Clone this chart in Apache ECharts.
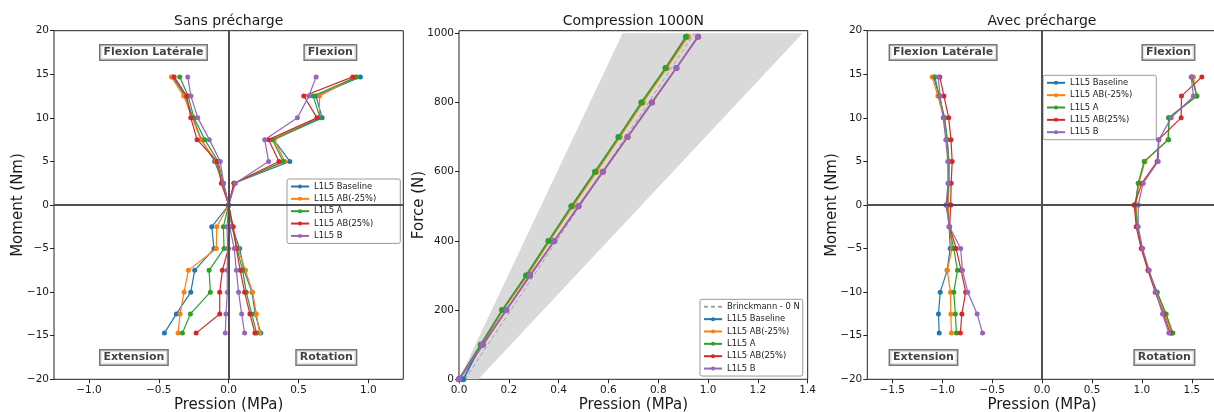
<!DOCTYPE html>
<html><head><meta charset="utf-8">
<script src="https://cdn.jsdelivr.net/npm/echarts@6/dist/echarts.min.js"></script>
<style>html,body{margin:0;padding:0;background:#fff}#c{width:1214px;height:412px}</style>
</head><body><div id="c"></div>
<script>
// ---------- DATA ----------
const seriesNames = ['L1L5 Baseline', 'L1L5 AB(-25%)', 'L1L5 A', 'L1L5 AB(25%)', 'L1L5 B'];
const brinckName = 'Brinckmann - 0 N';
const momentsUp = [0, 2.5, 5, 7.5, 10, 12.5, 14.7];
const momentsDown = [0, -2.5, -5, -7.5, -10, -12.5, -14.7];

// Sans précharge (pression MPa), order: Baseline, AB(-25%), A, AB(25%), B
const sansFlexionLaterale = [
  [0, -0.040, -0.100, -0.195, -0.255, -0.310, -0.400],
  [0, -0.045, -0.090, -0.200, -0.260, -0.322, -0.410],
  [0, -0.037, -0.076, -0.171, -0.248, -0.290, -0.350],
  [0, -0.052, -0.083, -0.226, -0.271, -0.300, -0.390],
  [0, -0.036, -0.060, -0.138, -0.221, -0.270, -0.293]
];
const sansFlexion = [
  [0, 0.040, 0.438, 0.322, 0.669, 0.625, 0.943],
  [0, 0.040, 0.402, 0.326, 0.650, 0.650, 0.910],
  [0, 0.040, 0.390, 0.314, 0.655, 0.605, 0.917],
  [0, 0.038, 0.360, 0.286, 0.632, 0.538, 0.888],
  [0, 0.048, 0.286, 0.258, 0.492, 0.574, 0.626]
];
const sansExtension = [
  [0, -0.121, -0.105, -0.243, -0.271, -0.374, -0.460],
  [0, -0.085, -0.088, -0.288, -0.319, -0.348, -0.362],
  [0, -0.038, -0.033, -0.140, -0.131, -0.274, -0.331],
  [0, 0.000, -0.002, -0.045, -0.064, -0.064, -0.233],
  [0, -0.012, -0.007, -0.010, -0.010, -0.019, -0.024]
];
const sansRotation = [
  [0, 0.025, 0.079, 0.110, 0.167, 0.190, 0.230],
  [0, 0.025, 0.067, 0.120, 0.171, 0.198, 0.221],
  [0, 0.025, 0.060, 0.100, 0.126, 0.165, 0.200],
  [0, 0.033, 0.055, 0.083, 0.114, 0.152, 0.188],
  [0, 0.007, 0.040, 0.055, 0.071, 0.093, 0.114]
];

// Avec précharge
const avecFlexionLaterale = [
  [-0.955, -0.935, -0.935, -0.950, -0.980, -1.030, -1.085],
  [-0.940, -0.930, -0.930, -0.955, -0.985, -1.043, -1.100],
  [-0.950, -0.935, -0.935, -0.950, -0.975, -1.030, -1.073],
  [-0.915, -0.910, -0.900, -0.912, -0.935, -0.982, -1.024],
  [-0.962, -0.942, -0.944, -0.964, -0.990, -1.020, -1.040]
];
const avecExtension = [
  [-0.955, -0.930, -0.920, -0.950, -1.020, -1.037, -1.030],
  [-0.940, -0.930, -0.900, -0.950, -0.917, -0.913, -0.908],
  [-0.950, -0.930, -0.884, -0.847, -0.884, -0.868, -0.857],
  [-0.915, -0.925, -0.860, -0.810, -0.765, -0.803, -0.818],
  [-0.962, -0.927, -0.815, -0.797, -0.744, -0.650, -0.596]
];
const avecFlexion = [
  [0.935, 0.965, 1.025, 1.265, 1.270, 1.550, 1.500],
  [0.940, 0.970, 1.030, 1.260, 1.278, 1.545, 1.516],
  [0.933, 0.963, 1.023, 1.266, 1.266, 1.550, 1.500],
  [0.923, 1.000, 1.153, 1.167, 1.393, 1.396, 1.600],
  [0.963, 1.013, 1.163, 1.170, 1.293, 1.516, 1.493]
];
const avecRotation = [
  [0.935, 0.955, 1.000, 1.066, 1.150, 1.235, 1.300],
  [0.940, 0.955, 1.000, 1.065, 1.148, 1.230, 1.300],
  [0.933, 0.955, 1.000, 1.066, 1.153, 1.243, 1.310],
  [0.923, 0.943, 0.993, 1.060, 1.133, 1.217, 1.283],
  [0.963, 0.963, 1.007, 1.073, 1.140, 1.206, 1.270]
];

// Compression 1000N: force (N) vs pression (MPa)
const forces = [0, 100, 200, 300, 400, 500, 600, 700, 800, 900, 990];
const compPression = [
  [0.017, 0.089, 0.175, 0.272, 0.362, 0.455, 0.550, 0.644, 0.736, 0.833, 0.916],
  [0.000, 0.090, 0.176, 0.273, 0.363, 0.456, 0.551, 0.645, 0.737, 0.834, 0.918],
  [0.000, 0.087, 0.173, 0.269, 0.359, 0.451, 0.546, 0.640, 0.732, 0.829, 0.911],
  [0.000, 0.096, 0.190, 0.285, 0.383, 0.480, 0.578, 0.677, 0.775, 0.873, 0.960],
  [0.000, 0.094, 0.190, 0.285, 0.383, 0.479, 0.577, 0.676, 0.774, 0.873, 0.959]
];
const brinckPression = [0.024, 0.945];
const brinckForce = [0, 1000];
const bandForce = [0, 1000];
const bandLow = [0.0, 0.657];
const bandHigh = [0.078, 1.38];

// Tick values
const sansXTicks = [-1.0, -0.5, 0.0, 0.5, 1.0];
const compXTicks = [0, 0.2, 0.4, 0.6, 0.8, 1.0, 1.2, 1.4];
const compYTicks = [0, 200, 400, 600, 800, 1000];
const avecXTicks = [-1.5, -1.0, -0.5, 0.0, 0.5, 1.0, 1.5];
const momentTicks = [-20, -15, -10, -5, 0, 5, 10, 15, 20];

const quadrantLabels = ['Flexion Latérale', 'Flexion', 'Extension', 'Rotation'];

// ---------- STYLE ----------
const colors = ['#1f77b4', '#ff7f0e', '#2ca02c', '#d62728', '#9467bd'];
const FONT = 'DejaVu Sans';
const TXT = '#1a1a1a';

const fmtNum = (d) => (v) => (d === null ? String(v) : Number(v).toFixed(d)).replace('-', '\u2212');

function xAxisCfg(gi, min, max, ticks, dec) {
  return {
    type: 'value', gridIndex: gi, min, max,
    name: 'Pression (MPa)', nameLocation: 'middle', nameGap: 18.5, nameMoveOverlap: false,
    nameTextStyle: { fontSize: 15, color: TXT, fontFamily: FONT, verticalAlign: 'top' },
    axisLine: { show: false, onZero: false },
    splitLine: { show: false },
    axisTick: { show: true, length: 4, customValues: ticks, lineStyle: { color: '#222', width: 1 } },
    axisLabel: { customValues: ticks, formatter: fmtNum(dec), fontSize: 10.5, color: TXT, fontFamily: FONT, margin: 5 }
  };
}
function yAxisCfg(gi, min, max, ticks, name, gap) {
  return {
    type: 'value', gridIndex: gi, min, max,
    name, nameLocation: 'middle', nameGap: gap, nameRotate: 90, nameMoveOverlap: false,
    nameTextStyle: { fontSize: 15, color: TXT, fontFamily: FONT },
    axisLine: { show: false, onZero: false },
    splitLine: { show: false },
    axisTick: { show: true, length: 4, customValues: ticks, lineStyle: { color: '#222', width: 1 } },
    axisLabel: { customValues: ticks, formatter: fmtNum(null), fontSize: 10.5, color: TXT, fontFamily: FONT, margin: 5 }
  };
}

const series = [];

function addLine(gi, xs, ys, k, width, size) {
  series.push({
    type: 'line', name: seriesNames[k], xAxisIndex: gi, yAxisIndex: gi,
    data: xs.map((x, i) => [x, ys[i]]),
    symbol: 'circle', symbolSize: size, showSymbol: true,
    lineStyle: { width, color: colors[k] }, itemStyle: { color: colors[k] },
    emphasis: { disabled: true }, z: 3 + k * 0.01, animation: false
  });
}

function zeroLines(gi) {
  series.push({
    type: 'line', xAxisIndex: gi, yAxisIndex: gi, data: [], silent: true, z: 2,
    markLine: {
      silent: true, symbol: 'none', animation: false, label: { show: false },
      lineStyle: { color: '#505050', width: 2, type: 'solid' },
      data: [{ xAxis: 0 }, { yAxis: 0 }]
    }
  });
}

function quadrantBoxes(gi, xl, xr) {
  const lbl = (pos) => ({
    show: true, position: pos, distance: 0, formatter: (p) => p.value[2],
    fontFamily: FONT, fontWeight: 'bold', fontSize: 11, color: '#111',
    backgroundColor: '#fff', borderColor: '#555', borderWidth: 1.5, padding: [2, 3, 1, 3]
  });
  series.push({
    type: 'scatter', xAxisIndex: gi, yAxisIndex: gi, symbolSize: 1, silent: true, z: 10,
    itemStyle: { color: 'rgba(0,0,0,0)' }, animation: false,
    data: [
      { value: [xl, 17.5, quadrantLabels[0]], label: lbl('right') },
      { value: [xr, 17.5, quadrantLabels[1]], label: lbl('left') },
      { value: [xl, -17.5, quadrantLabels[2]], label: lbl('right') },
      { value: [xr, -17.5, quadrantLabels[3]], label: lbl('left') }
    ]
  });
}

// Panel 1
zeroLines(0);
for (let k = 0; k < 5; k++) {
  addLine(0, sansFlexionLaterale[k], momentsUp, k, 1.2, 5);
  addLine(0, sansFlexion[k], momentsUp, k, 1.2, 5);
  addLine(0, sansExtension[k], momentsDown, k, 1.2, 5);
  addLine(0, sansRotation[k], momentsDown, k, 1.2, 5);
}
quadrantBoxes(0, -0.921, 0.914);

// Panel 2
series.push({
  type: 'custom', xAxisIndex: 1, yAxisIndex: 1, silent: true, z: 1, animation: false,
  data: [0],
  renderItem: (params, api) => {
    const pts = [
      api.coord([bandLow[0], bandForce[0]]),
      api.coord([bandLow[1], bandForce[1]]),
      api.coord([bandHigh[1], bandForce[1]]),
      api.coord([bandHigh[0], bandForce[0]])
    ];
    return { type: 'polygon', shape: { points: pts }, style: { fill: '#d9d9d9' } };
  }
});
series.push({
  type: 'line', name: brinckName, xAxisIndex: 1, yAxisIndex: 1,
  data: brinckPression.map((x, i) => [x, brinckForce[i]]),
  symbol: 'none', lineStyle: { color: '#a0a0a0', width: 1, type: [4, 3] },
  itemStyle: { color: '#a0a0a0' }, z: 2, animation: false, emphasis: { disabled: true }
});
for (let k = 0; k < 5; k++) addLine(1, compPression[k], forces, k, 1.6, 6);

// Panel 3
zeroLines(2);
for (let k = 0; k < 5; k++) {
  addLine(2, avecFlexionLaterale[k], momentsUp, k, 1.2, 5);
  addLine(2, avecExtension[k], momentsDown, k, 1.2, 5);
  addLine(2, avecFlexion[k], momentsUp, k, 1.2, 5);
  addLine(2, avecRotation[k], momentsDown, k, 1.2, 5);
}
quadrantBoxes(2, -1.527, 1.526);

const legendBase = {
  orient: 'vertical', itemWidth: 18, itemHeight: 5, itemGap: 3.35,
  backgroundColor: 'rgba(255,255,255,0.85)', borderColor: '#999', borderWidth: 1, borderRadius: 2,
  textStyle: { fontSize: 8.4, lineHeight: 9, color: TXT, fontFamily: FONT },
  selectedMode: false
};

const option = {
  animation: false,
  textStyle: { fontFamily: FONT },
  grid: [
    { left: 54, top: 30.7, width: 349.3, height: 348.6, show: true, borderColor: '#222', borderWidth: 1, backgroundColor: 'transparent', outerBoundsMode: 'none' },
    { left: 459, top: 30.7, width: 348.7, height: 348.6, show: true, borderColor: '#222', borderWidth: 1, backgroundColor: 'transparent', outerBoundsMode: 'none' },
    { left: 867.3, top: 30.7, width: 349.5, height: 348.6, show: true, borderColor: '#222', borderWidth: 1, backgroundColor: 'transparent', outerBoundsMode: 'none' }
  ],
  xAxis: [
    xAxisCfg(0, -1.25, 1.25, sansXTicks, 1),
    xAxisCfg(1, 0, 1.4, compXTicks, 1),
    xAxisCfg(2, -1.75, 1.75, avecXTicks, 1)
  ],
  yAxis: [
    yAxisCfg(0, -20, 20, momentTicks, 'Moment (Nm)', 28),
    yAxisCfg(1, 0, 1007.5, compYTicks, 'Force (N)', 32),
    yAxisCfg(2, -20, 20, momentTicks, 'Moment (Nm)', 28)
  ],
  legend: [
    Object.assign({}, legendBase, { data: seriesNames, left: 287, top: 179, padding: [3, 24, 3, 3] }),
    Object.assign({}, legendBase, { data: [{ name: brinckName, itemStyle: { color: 'rgba(0,0,0,0)', borderColor: 'rgba(0,0,0,0)' } }].concat(seriesNames), left: 700, top: 299.3, padding: [3, 3, 3, 3] }),
    Object.assign({}, legendBase, { data: seriesNames, left: 1043, top: 75.3, padding: [3, 24, 3, 3] })
  ],
  graphic: [
    { type: 'text', x: 228.7, y: 21.3, style: { text: 'Sans précharge', align: 'center', verticalAlign: 'middle', fontSize: 14, fontFamily: FONT, fill: TXT } },
    { type: 'text', x: 633.4, y: 21.3, style: { text: 'Compression 1000N', align: 'center', verticalAlign: 'middle', fontSize: 14, fontFamily: FONT, fill: TXT } },
    { type: 'text', x: 1042, y: 21.3, style: { text: 'Avec précharge', align: 'center', verticalAlign: 'middle', fontSize: 14, fontFamily: FONT, fill: TXT } }
  ],
  series
};

const chart = echarts.init(document.getElementById('c'), null, { renderer: 'canvas' });
chart.setOption(option);
</script>
</body></html>
